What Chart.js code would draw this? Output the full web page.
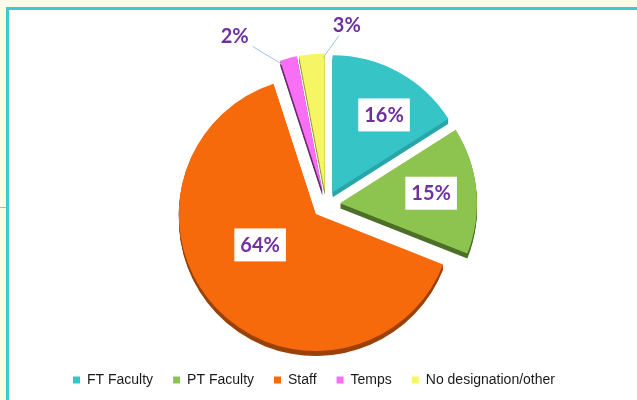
<!DOCTYPE html>
<html>
<head>
<meta charset="utf-8">
<script src="https://cdn.jsdelivr.net/npm/chart.js@4.4.1/dist/chart.umd.min.js"></script>
<style>
  html, body { margin: 0; padding: 0; width: 637px; height: 400px; overflow: hidden; background: #fff9ea; }
  #frame { position: absolute; left: 6px; top: 7px; right: -10px; bottom: -10px; background: #fff;
           border-top: 3px solid #3ccaca; border-left: 3px solid #3ccaca; }
  #tick { position: absolute; left: 0; top: 207px; width: 6px; height: 1px; background: #6fd6d6; }
  #wrap { position: absolute; left: 0; top: 0; width: 637px; height: 400px; }
</style>
</head>
<body>
<div id="frame"></div>
<div id="tick"></div>
<div id="wrap"><canvas id="pieChart" width="637" height="400"></canvas></div>
<script>
const categories = ["FT Faculty", "PT Faculty", "Staff", "Temps", "No designation/other"];
const shares = [16, 15, 64, 2, 3];

const sliceColors = ["#36c4c6", "#8cc44f", "#f66a0c", "#f86ef5", "#f6f664"];
const edgeColors = ["#2aa6a8", "#4d6f28", "#9a4208", "#6b2a6b", "#9a9a40"];

// where each percent label sits: fraction of radius along the slice middle, plus a small turn in degrees
// (lineTurn = where the leader line leaves the slice, for the outside ones)
const labelPlaces = [
	{ frac: 0.68, turn: 4 },
	{ frac: 0.67, turn: -1 },
	{ frac: 0.46, turn: 12 },
	{ frac: 1.3, turn: -14, lineTurn: -3 },
	{ frac: 1.22, turn: 12, lineTurn: 4.3 },
];

const total = shares.reduce((a, b) => a + b, 0);

// draws the slices pulled apart by the same distance, with a darker
// copy pushed down a few px under each one for the 3d edge
const explode = {
	id: "explode",
	beforeDatasetDraw(chart, args, opts) {
		const ctx = chart.ctx;
		const arcs = args.meta.data;
		const drawOne = (arc, color, down) => {
			const mid = (arc.startAngle + arc.endAngle) / 2;
			const fake = Object.create(arc);
			fake.options = Object.assign({}, arc.options, {
				offset: 0,
				backgroundColor: color,
				borderColor: color,
			});
			ctx.save();
			ctx.translate(Math.cos(mid) * opts.distance, Math.sin(mid) * opts.distance + down);
			fake.draw(ctx);
			ctx.restore();
		};
		for (let k = opts.depth; k >= 1; k--) {
			arcs.forEach((arc, i) => drawOne(arc, edgeColors[i], k));
		}
		arcs.forEach((arc, i) => drawOne(arc, sliceColors[i], 0));
		return false;
	},
};

const sliceLabels = {
	id: "sliceLabels",
	afterDatasetsDraw(chart, args, opts) {
		const ctx = chart.ctx;
		const shift = chart.options.plugins.explode.distance;
		ctx.save();
		ctx.font = "bold 20px Lato";
		ctx.textAlign = "center";
		ctx.textBaseline = "middle";
		chart.getDatasetMeta(0).data.forEach((arc, i) => {
			const place = labelPlaces[i];
			const mid = (arc.startAngle + arc.endAngle) / 2;
			const ang = mid + (place.turn * Math.PI) / 180;
			const r = shift + arc.outerRadius * place.frac;
			const lx = arc.x + Math.cos(ang) * r;
			const ly = arc.y + Math.sin(ang) * r;
			const text = Math.round((shares[i] / total) * 100) + "%";
			const w = ctx.measureText(text).width;
			if (place.frac < 1) {
				ctx.fillStyle = "#ffffff";
				ctx.fillRect(lx - w / 2 - 6, ly - 16, w + 12, 33);
			} else {
				// leader line from slice edge to label
				const la = mid + ((place.lineTurn || 0) * Math.PI) / 180;
				const sr = shift + arc.outerRadius * 0.97;
				const sx = arc.x + Math.cos(la) * sr;
				const sy = arc.y + Math.sin(la) * sr;
				const dx = sx - lx, dy = sy - ly;
				const t = Math.min((w / 2 + 6) / Math.abs(dx || 1e-6), 11 / Math.abs(dy || 1e-6));
				ctx.strokeStyle = "#9dc3e6";
				ctx.lineWidth = 1;
				ctx.beginPath();
				ctx.moveTo(sx, sy);
				ctx.lineTo(lx + dx * t, ly + dy * t);
				ctx.stroke();
			}
			ctx.fillStyle = opts.color;
			ctx.fillText(text, lx, ly + 1);
		});
		ctx.restore();
	},
};

const pieChart = new Chart(document.getElementById("pieChart").getContext("2d"), {
	type: "pie",
	data: {
		labels: categories,
		datasets: [
			{
				data: shares,
				backgroundColor: sliceColors,
				borderWidth: 0,
			},
		],
	},
	options: {
		responsive: false,
		animation: false,
		radius: 137,
		layout: {
			padding: { top: 56, bottom: 3, left: 53, right: 38 },
		},
		plugins: {
			legend: {
				position: "bottom",
				align: "start",
				labels: {
					boxWidth: 7,
					boxHeight: 7,
					padding: 20,
					color: "#1a1a1a",
					font: { family: "'Liberation Sans', Arial", size: 14 },
				},
			},
			tooltip: { enabled: false },
			explode: { distance: 14, depth: 5 },
			sliceLabels: { color: "#7030a0" },
		},
	},
	plugins: [explode, sliceLabels],
});
</script>
</body>
</html>
